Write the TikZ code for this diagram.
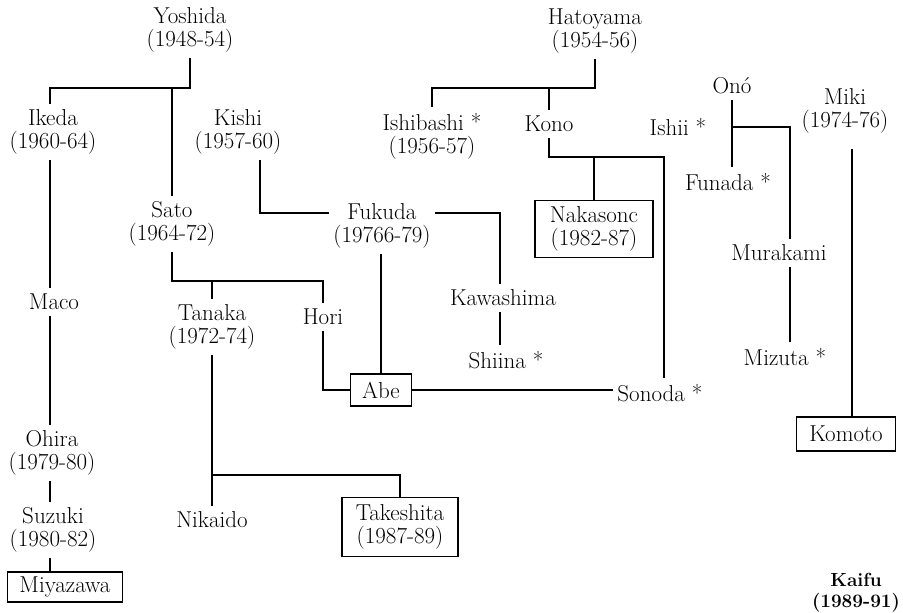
\documentclass[tikz,border=0pt]{standalone}
\begin{document}
\begin{tikzpicture}[x=1pt,y=-1pt, line width=1.2pt,
  nm/.style={align=center, inner sep=0pt, outer xsep=4pt, outer ysep=6pt, font=\fontsize{23}{23}\selectfont},
  bx/.style={nm, draw, line width=1.2pt, outer sep=0pt}]
\useasboundingbox (0,0) rectangle (903,613);
% nodes
\node[nm] (yoshida) at (190,30) {Yoshida\\(1948-54)};
\node[nm] (ikeda) at (53,132) {Ikeda\\(1960-64)};
\node[nm] (kishi) at (238,132) {Kishi\\(1957-60)};
\node[nm] (sato) at (172,224) {Sato\\(1964-72)};
\node[nm] (maco) at (54,302) {Maco};
\node[nm] (fukuda) at (382,226) {Fukuda\\(19766-79)};
\node[nm] (hori) at (323,317) {Hori};
\node[nm] (tanaka) at (212,327) {Tanaka\\(1972-74)};
\node[nm] (kawashima) at (503,298) {Kawashima};
\node[nm] (shiina) at (506,360) {Shiina *};
\node[bx, minimum width=61pt, minimum height=32pt] (abe) at (381,390) {Abe};
\node[nm] (sonoda) at (660,393) {Sonoda *};
\node[nm] (ohira) at (52,453) {Ohira\\(1979-80)};
\node[nm] (suzuki) at (53,530) {Suzuki\\(1980-82)};
\node[bx, minimum width=115pt, minimum height=30pt] (miyazawa) at (65,587) {Miyazawa};
\node[nm] (nikaido) at (212,520) {Nikaido};
\node[bx, minimum width=116pt, minimum height=59pt] (takeshita) at (400,527) {Takeshita\\(1987-89)};
\node[nm] (hatoyama) at (595,31) {Hatoyama\\(1954-56)};
\node[nm] (ishibashi) at (432,136) {Ishibashi *\\(1956-57)};
\node[nm] (kono) at (549,124) {Kono};
\node[bx, minimum width=118pt, minimum height=57pt] (nakasone) at (594,229) {Nakasonc\\(1982-87)};
\node[nm] (ono) at (732,86) {Onó};
\node[nm] (ishii) at (678,127) {Ishii *};
\node[nm] (funada) at (728,182) {Funada *};
\node[nm] (murakami) at (779,253) {Murakami};
\node[nm] (mizuta) at (785,357) {Mizuta *};
\node[nm] (miki) at (845,111) {Miki\\(1974-76)};
\node[bx, minimum width=99pt, minimum height=34pt] (komoto) at (846,434) {Komoto};
\node[nm, font=\fontsize{19}{21}\selectfont\bfseries] (kaifu) at (856,593) {Kaifu\\(1989-91)};
% helper coordinates
\coordinate (lc) at (50,0);
\coordinate (yj) at (190,88);
\coordinate (kl) at (260,213);
\coordinate (fr) at (500,213);
\coordinate (sj) at (171,281);
\coordinate (tj) at (211,475);
\coordinate (hj) at (0,88);
\coordinate (kj) at (664,157);
\coordinate (oj) at (790,127);
\coordinate (mk) at (852,0);
% connectors
\draw (yoshida.south) -- (yoshida.south |- yj) -| (ikeda.north -| lc);
\draw (sato.north |- yj) -- (sato.north);
\draw (ikeda.south -| lc) -- (maco.north -| lc);
\draw (maco.south -| lc) -- (ohira.north -| lc);
\draw (ohira.south -| lc) -- (suzuki.north -| lc);
\draw (suzuki.south -| lc) -- (miyazawa.north -| lc);
\draw (kishi.south -| kl) -- (kl) -- (fukuda.west |- kl);
\draw (fukuda.east |- fr) -- (fr) -- (kawashima.north -| fr);
\draw (kawashima.south -| fr) -- (shiina.north -| fr);
\draw (fukuda.south -| abe.north) -- (abe.north);
\draw (sato.south) -- (sato.south |- sj) -- (hori.north |- sj) -- (hori.north);
\draw (tanaka.north |- sj) -- (tanaka.north);
\draw (hori.south) |- (abe.west);
\draw (tanaka.south) -- (tanaka.south |- nikaido.north);
\draw (tanaka.south |- tj) -| (takeshita.north);
\draw (abe.east) -- (abe.east -| sonoda.west);
\draw (hatoyama.south) -- (hatoyama.south |- hj) -| (ishibashi.north);
\draw (kono.north |- hj) -- (kono.north);
\draw (kono.south) -- (kono.south |- kj) -- (kj) -- (kj |- sonoda.north);
\draw (nakasone.north |- kj) -- (nakasone.north);
\draw (ono.south) -- (funada.north -| ono.south);
\draw (ono.south |- oj) -- (oj) -- (murakami.north -| oj);
\draw (murakami.south -| oj) -- (mizuta.north -| oj);
\draw ([yshift=-10pt]miki.south -| mk) -- (komoto.north -| mk);
\end{tikzpicture}
\end{document}
